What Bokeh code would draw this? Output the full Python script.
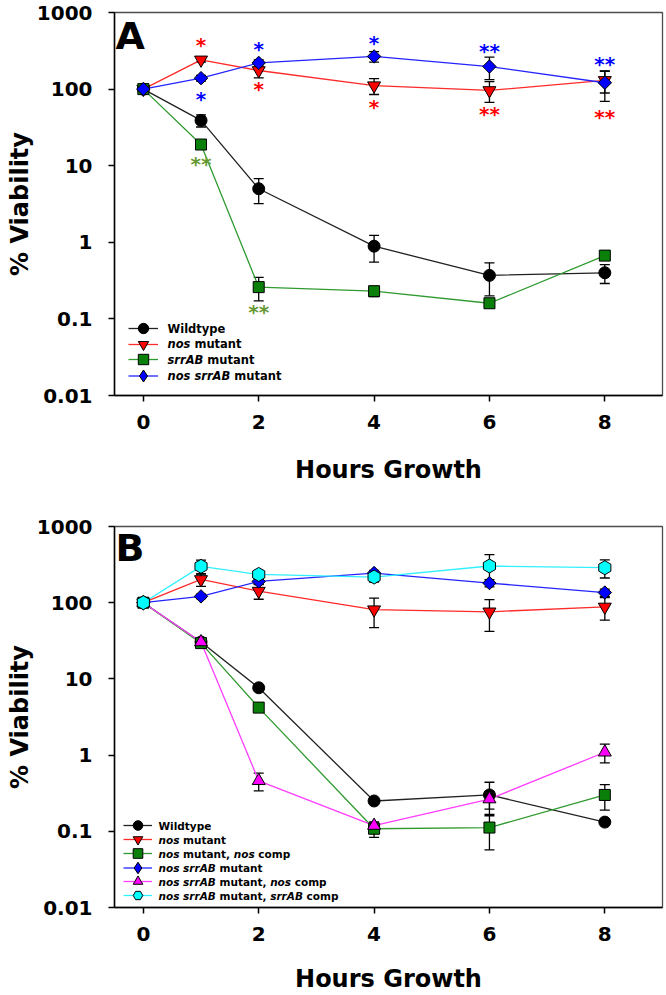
import numpy as np
from bokeh.plotting import figure
from bokeh.layouts import column
from bokeh.models import (ColumnDataSource, Whisker, TeeHead, Legend, LegendItem,
                          Label, FixedTicker, Range1d)
from bokeh.core.properties import value
from bokeh.embed import file_html
from bokeh.resources import INLINE

# ---------------- data ----------------
hours = [0, 1, 2, 4, 6, 8]
x_ticks = [0, 2, 4, 6, 8]
y_ticks = [0.01, 0.1, 1, 10, 100, 1000]
y_tick_labels = ["0.01", "0.1", "1", "10", "100", "1000"]
x_title = "Hours Growth"
y_title = "% Viability"

# Panel A
a_wildtype = [100, 39, 5.0, 0.89, 0.37, 0.40]
a_wildtype_err = [0, 7, 1.8, 0.34, 0.17, 0.11]
a_nos = [100, 241, 175, 111, 96, 130]
a_nos_err = [0, 15, 35, 26, 29, 41]
a_srrab = [100, 18.9, 0.26, 0.23, 0.16, 0.67]
a_srrab_err = [0, 1.5, 0.088, 0.035, 0.02, 0.06]
a_nos_srrab = [100, 139, 220, 267, 197, 121]
a_nos_srrab_err = [0, 12, 20, 42, 64, 52]

# significance marks in panel A
a_sig_series = ["nos", "nos_srrab", "srrab", "nos_srrab", "nos", "srrab",
                "nos_srrab", "nos", "nos_srrab", "nos", "nos_srrab", "nos"]
a_sig_hour = [1, 1, 1, 2, 2, 2, 4, 4, 6, 6, 8, 8]
a_sig_text = ["*", "*", "**", "*", "*", "**", "*", "*", "**", "**", "**", "**"]

# Panel B
b_wildtype = [100, 30.5, 7.65, 0.25, 0.30, 0.132]
b_wildtype_err = [0, 2, 0.5, 0.015, 0.14, 0.01]
b_nos = [100, 202, 142, 81, 76, 88]
b_nos_err = [0, 38, 31, 34, 34, 29]
b_nos_comp = [100, 29.5, 4.2, 0.108, 0.112, 0.30]
b_nos_comp_err = [0, 3, 0.4, 0.025, 0.055, 0.11]
b_nos_srrab = [100, 121, 190, 245, 181, 136]
b_nos_srrab_err = [0, 8, 15, 20, 20, 15]
b_nos_srrab_nos_comp = [100, 30.5, 0.46, 0.119, 0.265, 1.09]
b_nos_srrab_nos_comp_err = [0, 2, 0.12, 0.01, 0.07, 0.3]
b_nos_srrab_srrab_comp = [100, 300, 235, 217, 303, 288]
b_nos_srrab_srrab_comp_err = [0, 63, 25, 30, 125, 77]

# legend texts: (text, italic)
a_legend = [
    [("Wildtype", False)],
    [("nos", True), (" mutant", False)],
    [("srrAB", True), (" mutant", False)],
    [("nos srrAB", True), (" mutant", False)],
]
b_legend = [
    [("Wildtype", False)],
    [("nos", True), (" mutant", False)],
    [("nos", True), (" mutant, ", False), ("nos", True), (" comp", False)],
    [("nos srrAB", True), (" mutant", False)],
    [("nos srrAB", True), (" mutant, ", False), ("nos", True), (" comp", False)],
    [("nos srrAB", True), (" mutant, ", False), ("srrAB", True), (" comp", False)],
]

# ---------------- styles ----------------
FONT = "DejaVu Sans"
BLACK = dict(marker="circle", size=12, fill="#000000", line="#222222")
RED = dict(marker="inverted_triangle", size=13, fill="#ff0000", line="#ff2a2a")
GREEN = dict(marker="square", size=11, fill="#0a800a", line="#2f9a2f")
BLUE = dict(marker="square", size=9.5, fill="#0000ff", line="#2424ff", angle=np.pi / 4,
            legend_marker="diamond", legend_gh=31)
MAGENTA = dict(marker="triangle", size=13, fill="#ff00ff", line="#ff3cff")
CYAN = dict(marker="hex", size=14, fill="#00ffff", line="#30f0ff", angle=np.pi / 6)

series_a = [
    dict(key="wt", y=a_wildtype, err=a_wildtype_err, **BLACK),
    dict(key="nos", y=a_nos, err=a_nos_err, **RED),
    dict(key="srrab", y=a_srrab, err=a_srrab_err, **GREEN),
    dict(key="nos_srrab", y=a_nos_srrab, err=a_nos_srrab_err, **BLUE),
]
series_b = [
    dict(key="wt", y=b_wildtype, err=b_wildtype_err, **BLACK),
    dict(key="nos", y=b_nos, err=b_nos_err, **RED),
    dict(key="nos_comp", y=b_nos_comp, err=b_nos_comp_err, **GREEN),
    dict(key="nos_srrab", y=b_nos_srrab, err=b_nos_srrab_err, **BLUE),
    dict(key="ns_nos", y=b_nos_srrab_nos_comp, err=b_nos_srrab_nos_comp_err, **MAGENTA),
    dict(key="ns_srr", y=b_nos_srrab_srrab_comp, err=b_nos_srrab_srrab_comp_err, **CYAN),
]
sig_colors = {"nos": "#ff0000", "nos_srrab": "#0000ff", "srrab": "#669933"}
a_sig_offset_px = [-16, 19, 18, -15, 17, 23, -15, 20, -17, 22, -20, 35]
SIG_SHIFT = 1.5

# DejaVu Sans Bold advance widths (em)
ADV = {" ": 0.348, ",": 0.381, "A": 0.774, "B": 0.762, "W": 1.103, "a": 0.675,
       "c": 0.593, "d": 0.716, "e": 0.678, "i": 0.343, "l": 0.343, "m": 1.042,
       "n": 0.712, "o": 0.687, "p": 0.716, "r": 0.493, "s": 0.595, "t": 0.478,
       "u": 0.712, "y": 0.652}


def tw(s, size):
    return sum(ADV.get(c, 0.6) for c in s) * size


def make_panel(letter, series, legend_rows, height, border_top, border_bottom,
               leg, x_label_standoff):
    p = figure(width=666, height=height, y_axis_type="log",
               x_range=Range1d(-0.5, 9.0), y_range=Range1d(0.01, 1000),
               output_backend="svg", toolbar_location=None,
               min_border_left=114, min_border_right=4,
               min_border_top=border_top, min_border_bottom=border_bottom)
    p.grid.visible = False
    p.outline_line_color = "#4d4d4d"
    p.outline_line_width = 1.3
    p.background_fill_color = "white"
    p.border_fill_color = "white"
    for ax in (p.xaxis[0], p.yaxis[0]):
        ax.axis_line_color = "black"
        ax.axis_line_width = 1.5
        ax.major_tick_line_color = "black"
        ax.major_tick_line_width = 1.5
        ax.major_tick_in = 0
        ax.major_tick_out = 6
        ax.minor_tick_line_color = None
        ax.major_label_text_font = FONT
        ax.major_label_text_font_style = "bold"
        ax.major_label_text_font_size = "20px"
        ax.major_label_text_color = "black"
        ax.axis_label_text_font = FONT
        ax.axis_label_text_font_style = "bold"
        ax.axis_label_text_font_size = "24px"
        ax.axis_label_text_color = "black"
    p.xaxis.ticker = FixedTicker(ticks=x_ticks)
    p.yaxis.ticker = FixedTicker(ticks=y_ticks)
    p.yaxis.major_label_overrides = {t: l for t, l in zip(y_ticks, y_tick_labels)}
    p.xaxis.axis_label = x_title
    p.yaxis.axis_label = y_title
    p.xaxis.major_label_standoff = 13
    p.xaxis.axis_label_standoff = x_label_standoff
    p.yaxis.major_label_standoff = 16
    p.yaxis.axis_label_standoff = 0

    lines = {}
    for s in series:
        lines[s["key"]] = p.line(hours, s["y"], line_color=s["line"], line_width=1.3)
    for s in series:
        xs, up, lo = [], [], []
        for h, v, e in zip(hours, s["y"], s["err"]):
            if e > 0:
                xs.append(h)
                up.append(v + e)
                lo.append(v - e)
        src = ColumnDataSource(dict(x=xs, upper=up, lower=lo))
        p.add_layout(Whisker(source=src, base="x", upper="upper", lower="lower",
                             line_color="black", line_width=1.3,
                             upper_head=TeeHead(size=10, line_color="black", line_width=1.3),
                             lower_head=TeeHead(size=10, line_color="black", line_width=1.3)))
    scat, samples = {}, {}
    for s in series:
        if "legend_marker" in s:
            # legend sample glyph: drawn under (and fully hidden by) the rotated square
            samples[s["key"]] = p.scatter(hours, s["y"], marker=s["legend_marker"], size=11,
                                          fill_color=s["fill"], line_color="black",
                                          line_width=1)
        scat[s["key"]] = p.scatter(hours, s["y"], marker=s["marker"], size=s["size"],
                                   fill_color=s["fill"], line_color="black", line_width=1,
                                   angle=s.get("angle", 0))

    # legend: one single-row legend per entry, text drawn separately (mixed italic)
    n = len(series)
    fs = leg["fs"]
    for k, (s, row) in enumerate(zip(series, legend_rows)):
        yc = leg["y0"] + (n - 1 - k) * leg["pitch"]
        sample = samples.get(s["key"], scat[s["key"]])
        gh = s.get("legend_gh", leg["gh"])
        p.add_layout(Legend(items=[LegendItem(label=" ", renderers=[lines[s["key"]], sample])],
                            location=(leg["x"], yc - gh / 2),
                            glyph_width=leg["gw"], glyph_height=gh,
                            label_height=gh, spacing=0,
                            padding=0, margin=0, border_line_color=None,
                            background_fill_alpha=0, label_standoff=2,
                            label_text_font_size="6px"))
        xoff = leg["tx"]
        for txt, ital in row:
            stripped = txt.lstrip(" ")
            xoff += tw(txt[:len(txt) - len(stripped)], fs)
            core = stripped.rstrip(" ")
            if core:
                p.add_layout(Label(x=xoff, y=yc, x_units="screen", y_units="screen",
                                   text=core, text_font=FONT,
                                   text_font_style="bold italic" if ital else "bold",
                                   text_font_size=f"{fs}px", text_color="black",
                                   text_baseline="middle", text_align="left"))
            xoff += tw(stripped, fs)

    p.add_layout(Label(x=1, y=360, x_units="screen", y_units="screen", text=letter,
                       text_font=FONT, text_font_style="bold", text_font_size="38px",
                       text_color="black", text_baseline="alphabetic"))
    return p


p1 = make_panel("A", series_a, a_legend, 494, 12, 99,
                dict(x=14, y0=20, gw=30, gh=26, pitch=15.6, tx=53, fs=11.5), 24)

# significance asterisks
lookup = {s["key"]: s["y"] for s in series_a}
sig_src = ColumnDataSource(dict(
    x=a_sig_hour,
    y=[lookup[k][hours.index(h)] for k, h in zip(a_sig_series, a_sig_hour)],
    text=a_sig_text,
    color=[sig_colors[k] for k in a_sig_series],
    off=[o + SIG_SHIFT for o in a_sig_offset_px],
))
p1.text(x="x", y="y", text="text", source=sig_src, text_color="color",
        text_font=value(FONT), text_font_style="bold", text_font_size="20px",
        text_align="center", text_baseline="middle", y_offset="off")

p2 = make_panel("B", series_b, b_legend, 501, 32, 87,
                dict(x=9, y0=12, gw=29, gh=24, pitch=14, tx=44, fs=10.5), 21)

layout = column(p1, p2)
open("out.html", "w").write(file_html(layout, INLINE))
